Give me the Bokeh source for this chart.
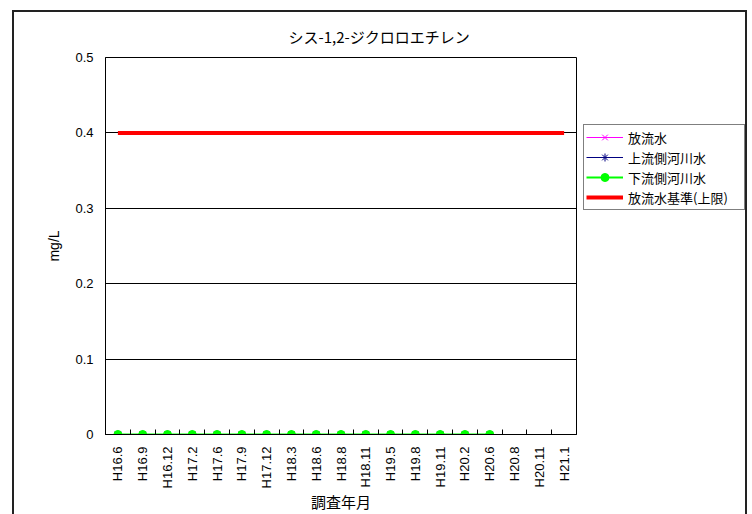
import math
from bokeh.plotting import figure
from bokeh.models import Range1d, FixedTicker, Legend, LegendItem
from bokeh.embed import file_html
from bokeh.resources import INLINE

# ---- data ----
categories = ["H16.6", "H16.9", "H16.12", "H17.2", "H17.6", "H17.9", "H17.12",
              "H18.3", "H18.6", "H18.8", "H18.11", "H19.5", "H19.8", "H19.11",
              "H20.2", "H20.6", "H20.8", "H20.11", "H21.1"]
effluent = [0, 0, 0, 0, 0, 0, 0, 0, 0, 0, 0, 0, 0, 0, 0, 0]          # 放流水
upstream = [0, 0, 0, 0, 0, 0, 0, 0, 0, 0, 0, 0, 0, 0, 0, 0]          # 上流側河川水
downstream = [0, 0, 0, 0, 0, 0, 0, 0, 0, 0, 0, 0, 0, 0, 0, 0]        # 下流側河川水
limit = [0.4, 0.4, 0.4, 0.4, 0.4, 0.4, 0.4, 0.4, 0.4, 0.4, 0.4, 0.4,
         0.4, 0.4, 0.4, 0.4, 0.4, 0.4, 0.4]                          # 放流水基準(上限)
y_ticks = [0, 0.1, 0.2, 0.3, 0.4, 0.5]
y_tick_labels = ["0", "0.1", "0.2", "0.3", "0.4", "0.5"]
series_names = ["放流水", "上流側河川水", "下流側河川水", "放流水基準(上限)"]
title_text = "シス-1,2-ジクロロエチレン"
x_title = "調査年月"
y_title = "mg/L"

JP = "Noto Sans CJK JP"
LAT = "Liberation Sans"

x_idx = list(range(len(categories)))
xs_eff = x_idx[:len(effluent)]
xs_up = x_idx[:len(upstream)]
xs_dn = x_idx[:len(downstream)]

p = figure(frame_width=471, frame_height=377, output_backend="svg", toolbar_location=None,
           x_range=Range1d(-0.5, len(categories) - 0.5), y_range=Range1d(0, 0.5),
           min_border_left=105, min_border_right=172, min_border_top=57,
           min_border_bottom=80, title=title_text)

p.border_fill_color = None
p.background_fill_color = "white"
p.outline_line_color = "black"
p.outline_line_width = 1
# outer chart-area border (left, top, right) painted behind the transparent canvas
p.styles = {"background": "linear-gradient(#222,#222) 12px 10px / 2px 520px no-repeat, "
                          "linear-gradient(#222,#222) 12px 10px / 735px 2px no-repeat, "
                          "linear-gradient(#222,#222) 745px 10px / 2px 520px no-repeat"}

p.title.text_font = JP
p.title.text_font_size = "15px"
p.title.text_font_style = "normal"
p.title.text_color = "black"
p.title.align = "left"
p.title.offset = 183
p.title.standoff = 22

# grid
p.xgrid.visible = False
p.ygrid.ticker = FixedTicker(ticks=y_ticks)
p.ygrid.grid_line_color = "black"
p.ygrid.grid_line_width = 1
p.ygrid.grid_line_alpha = 1

# y axis
p.yaxis.ticker = FixedTicker(ticks=y_ticks)
p.yaxis.major_label_overrides = {t: l for t, l in zip(y_ticks, y_tick_labels)}
p.yaxis.major_tick_in = 0
p.yaxis.major_tick_out = 0
p.yaxis.minor_tick_in = 0
p.yaxis.minor_tick_out = 0
p.yaxis.major_label_standoff = 12
p.yaxis.major_label_text_font = LAT
p.yaxis.major_label_text_font_size = "13px"
p.yaxis.major_label_text_color = "black"
p.yaxis.axis_line_color = "black"
p.yaxis.axis_label = y_title
p.yaxis.axis_label_text_font = LAT
p.yaxis.axis_label_text_font_size = "14px"
p.yaxis.axis_label_text_font_style = "normal"
p.yaxis.axis_label_text_color = "black"
p.yaxis.axis_label_standoff = 10

# x axis
p.xaxis.ticker = FixedTicker(ticks=x_idx, minor_ticks=[i - 0.5 for i in range(len(categories) + 1)])
p.xaxis.major_label_overrides = {i: c for i, c in zip(x_idx, categories)}
p.xaxis.major_label_orientation = math.pi / 2
p.xaxis.major_tick_in = 0
p.xaxis.major_tick_out = 0
p.xaxis.minor_tick_in = 5
p.xaxis.minor_tick_out = 0
p.xaxis.minor_tick_line_color = "black"
p.xaxis.major_label_standoff = 12
p.xaxis.major_label_text_font = LAT
p.xaxis.major_label_text_font_size = "13px"
p.xaxis.major_label_text_color = "black"
p.xaxis.axis_line_color = "black"
p.xaxis.axis_label = x_title
p.xaxis.axis_label_text_font = JP
p.xaxis.axis_label_text_font_size = "15px"
p.xaxis.axis_label_text_font_style = "normal"
p.xaxis.axis_label_text_color = "black"
p.xaxis.axis_label_standoff = 0

# series
r_eff_l = p.line(xs_eff, effluent, line_color="#FF00FF", line_width=1)
r_eff_m = p.scatter(xs_eff, effluent, marker="x", size=8, line_color="#FF00FF", line_width=1)
r_up_l = p.line(xs_up, upstream, line_color="#000080", line_width=1)
r_up_m = p.scatter(xs_up, upstream, marker="asterisk", size=8, line_color="#000080", line_width=1)
r_dn_l = p.line(xs_dn, downstream, line_color="#00FF00", line_width=2)
r_dn_m = p.scatter(xs_dn, downstream, marker="circle", size=8, fill_color="#00FF00",
                   line_color="#00FF00")
r_lim = p.line(x_idx, limit, line_color="#FF0000", line_width=4)

legend = Legend(items=[
    LegendItem(label=series_names[0], renderers=[r_eff_l, r_eff_m]),
    LegendItem(label=series_names[1], renderers=[r_up_l, r_up_m]),
    LegendItem(label=series_names[2], renderers=[r_dn_l, r_dn_m]),
    LegendItem(label=series_names[3], renderers=[r_lim]),
], location=(7, 224))
legend.label_text_font = JP
legend.label_text_font_size = "13px"
legend.label_text_color = "black"
legend.glyph_width = 37
legend.glyph_height = 20
legend.label_height = 20
legend.label_width = 114
legend.label_standoff = 5
legend.spacing = 0
legend.padding = 2
legend.margin = 0
legend.border_line_color = "black"
legend.border_line_width = 1
legend.background_fill_color = "white"
legend.background_fill_alpha = 1
p.add_layout(legend, "right")

open("out.html", "w").write(file_html(p, INLINE))
